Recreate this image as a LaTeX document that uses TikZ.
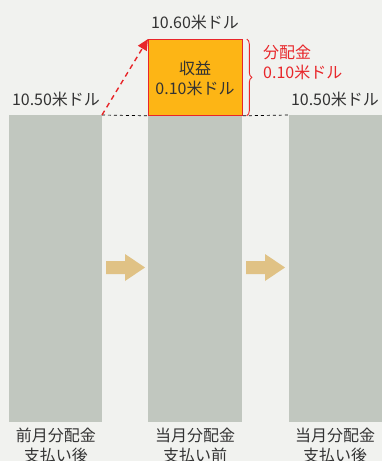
\documentclass[tikz,border=0pt]{standalone}
\usepackage{fontspec}
\setmainfont{Noto Sans CJK JP}
\usetikzlibrary{arrows.meta,decorations.pathreplacing}
\definecolor{bg}{HTML}{F1F2EF}
\definecolor{barc}{HTML}{C1C7BF}
\definecolor{orng}{HTML}{FDB515}
\definecolor{redc}{HTML}{E8262A}
\definecolor{tan}{HTML}{E0C285}
\definecolor{txt}{HTML}{333333}
\tikzset{
  bar/.style={fill=barc,draw=none},
  lbl/.style={font=\fontsize{16}{20}\selectfont,text=txt,inner sep=0pt},
  rlbl/.style={font=\fontsize{16}{20}\selectfont,text=redc,inner sep=0pt,align=left},
  blockarrow/.style={fill=tan,draw=none},
}
\begin{document}
\begin{tikzpicture}[x=1pt,y=-1pt]
\useasboundingbox (0,0) rectangle (382,461);
\clip (0,0) rectangle (382,461);
\fill[bg] (0,0) rectangle (382,461);
% bars
\path[bar] (9,115) rectangle (102,422);
\path[bar] (148,115) rectangle (242,422);
\path[bar] (289,115) rectangle (382,422);
% orange box
\node[draw=redc,line width=0.8pt,fill=orng,minimum width=94pt,minimum height=76pt,inner sep=0pt,anchor=north west] (box) at (148,39) {};
\node[lbl,align=center] (boxtext) at (195,78) {収益\\0.10米ドル};
% labels
\node[lbl] (top) at (195,22) {10.60米ドル};
\node[lbl] (left) at (56,99) {10.50米ドル};
\node[lbl] (right) at (335,99) {10.50米ドル};
\node[rlbl,anchor=west] (bun) at (263,62) {分配金\\0.10米ドル};
% dashed baseline
\coordinate (b1) at (102,115);
\coordinate (b2) at (289,115);
\draw[dashed,line width=0.7pt,black,dash pattern=on 3pt off 3pt] (b1) -- (box.south west);
\draw[dashed,line width=0.7pt,black,dash pattern=on 3pt off 3pt] (box.south east) -- (b2);
% red dashed arrow
\draw[redc,line width=1.4pt,dash pattern=on 5pt off 4pt,-{Triangle[length=11pt,width=10pt]}] (b1) -- (box.north west);
% brace
\draw[redc,line width=0.9pt,decorate,decoration={brace,amplitude=5pt}] ([xshift=4pt]box.north east) -- ([xshift=4pt]box.south east);
% block arrows
\path[blockarrow] (106,261) -- (125,261) -- (125,254) -- (145,267.5) -- (125,281) -- (125,274) -- (106,274) -- cycle;
\path[blockarrow] (246,261) -- (265,261) -- (265,254) -- (285,267.5) -- (265,281) -- (265,274) -- (246,274) -- cycle;
% bottom labels
\node[lbl,align=center,anchor=north] (c1) at (56,428) {前月分配金\\支払い後};
\node[lbl,align=center,anchor=north] (c2) at (195,428) {当月分配金\\支払い前};
\node[lbl,align=center,anchor=north] (c3) at (335,428) {当月分配金\\支払い後};
\end{tikzpicture}
\end{document}
